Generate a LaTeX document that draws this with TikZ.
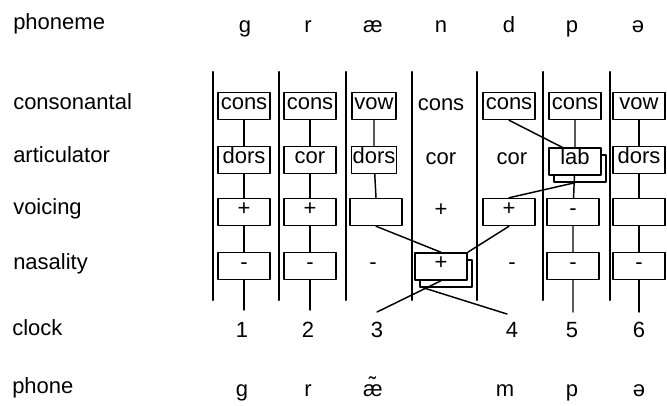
\documentclass[tikz,border=0pt]{standalone}
\usepackage{fontspec}
\setmainfont{Liberation Sans}
\usetikzlibrary{calc}

\begin{document}
\begin{tikzpicture}[x=0.75pt, y=-0.75pt, line cap=round, line join=round,
	every node/.style={font=\fontsize{16.5}{19}\selectfont, text height=0.72em, text depth=0.21em},
	feat/.style={draw, line width=1.1pt, fill=white, minimum width=39pt, minimum height=20.25pt, inner sep=1pt},
	narrow/.style={minimum width=33pt},
	link/.style={line width=1.1pt},
	sep/.style={line width=1.7pt},
	lbl/.style={anchor=west, inner sep=0pt}]
	\useasboundingbox (0,0) rectangle (667,405);
	
	% tier labels
	\node[lbl] (Lphon) at (13,26) {phoneme};
	\node[lbl] (Lcons) at (13,106) {consonantal};
	\node[lbl] (Lart) at (13,159) {articulator};
	\node[lbl] (Lvoi) at (13,211) {voicing};
	\node[lbl] (Lnas) at (13,266) {nasality};
	\node[lbl] (Lclk) at (12,332) {clock};
	\node[lbl] (Lphn) at (12,390) {phone};
	
	% phonemes
	\node (p1) at (245,29) {g};
	\node (p2) at (308,29) {r};
	\node (p3) at (373,29) {æ};
	\node (p4) at (441,29) {n};
	\node (p5) at (509,29) {d};
	\node (p6) at (572,29) {p};
	\node (p7) at (638,29) {ə};
	
	% segment boundaries
	\foreach \x in {213,279,346,412,477,543,610}
		\draw[sep] (\x,72) -- (\x,300);
	
	% g
	\node[feat] (c1) at (244,106) {cons};
	\node[feat] (a1) at (244,160) {dors};
	\node[feat] (v1) at (244,212) {+};
	\node[feat] (n1) at (244,266) {-};
	% r
	\node[feat] (c2) at (310,106) {cons};
	\node[feat] (a2) at (310,160) {cor};
	\node[feat] (v2) at (310,212) {+};
	\node[feat] (n2) at (310,266) {-};
	% ae
	\node[feat,narrow] (c3) at (374,106) {vow};
	\node[feat,narrow] (a3) at (374,160) {dors};
	\node[feat] (v3) at (376,212) {};
	\node (n3) at (373,266) {-};
	% n
	\node (c4) at (441,107) {cons};
	\node (a4) at (441,161) {cor};
	\node (v4) at (441,213) {+};
	\node[feat] (n4s) at (446,273.5) {};
	\node[feat] (n4) at (441,266.5) {+};
	% d
	\node[feat] (c5) at (509,106) {cons};
	\node (a5) at (512,161) {cor};
	\node[feat] (v5) at (509,212) {+};
	\node (n5) at (512,266) {-};
	% p
	\node[feat] (c6) at (575,106) {cons};
	\node[feat] (a6s) at (580,168.5) {};
	\node[feat] (a6) at (575,161.5) {lab};
	\node[feat] (v6) at (573,212) {-};
	\node[feat] (n6) at (573,266) {-};
	% schwa
	\node[feat] (c7) at (639,106) {vow};
	\node[feat] (a7) at (639,160) {dors};
	\node[feat] (v7) at (639,212) {};
	\node[feat] (n7) at (639,266) {-};
	
	% clock ticks
	\coordinate (t1) at (244,310);
	\coordinate (t2) at (310,310);
	\coordinate (t3) at (377,312);
	\coordinate (t4) at (507,314);
	\coordinate (t5) at (573,312);
	\coordinate (t6) at (639,312);
	\node (k1) at (242,334) {1};
	\node (k2) at (308,334) {2};
	\node (k3) at (377,334) {3};
	\node (k4) at (512,334) {4};
	\node (k5) at (572,334) {5};
	\node (k6) at (639,334) {6};
	
	% phones
	\node (q1) at (242,393) {g};
	\node (q2) at (308,393) {r};
	\node (q3) at (373,393) {æ̃};
	\node (q4) at (505,393) {m};
	\node (q5) at (572,393) {p};
	\node (q6) at (639,393) {ə};
	
	% association lines
	\draw[link] (c1) -- (a1) -- (v1) -- (n1) -- (t1);
	\draw[link] (c2) -- (a2) -- (v2) -- (n2) -- (t2);
	\draw[link] (c3) -- (a3) -- (v3.north);
	\draw[link] (v3.south) -- (n4.north);
	\draw[link] (v5.south) -- (n4.north east);
	\draw[link] (n4.south) -- (t3);
	\draw[link] (n4s.-148) -- (t4);
	\draw[link] (c5.south) -- (a6.132);
	\draw[link] (v5.north) -- (a6s.-110);
	\draw[link] (c6) -- (a6) -- (v6) -- (n6) -- (t5);
	\draw[link] (c7) -- (a7) -- (v7) -- (n7) -- (t6);
\end{tikzpicture}
\end{document}
